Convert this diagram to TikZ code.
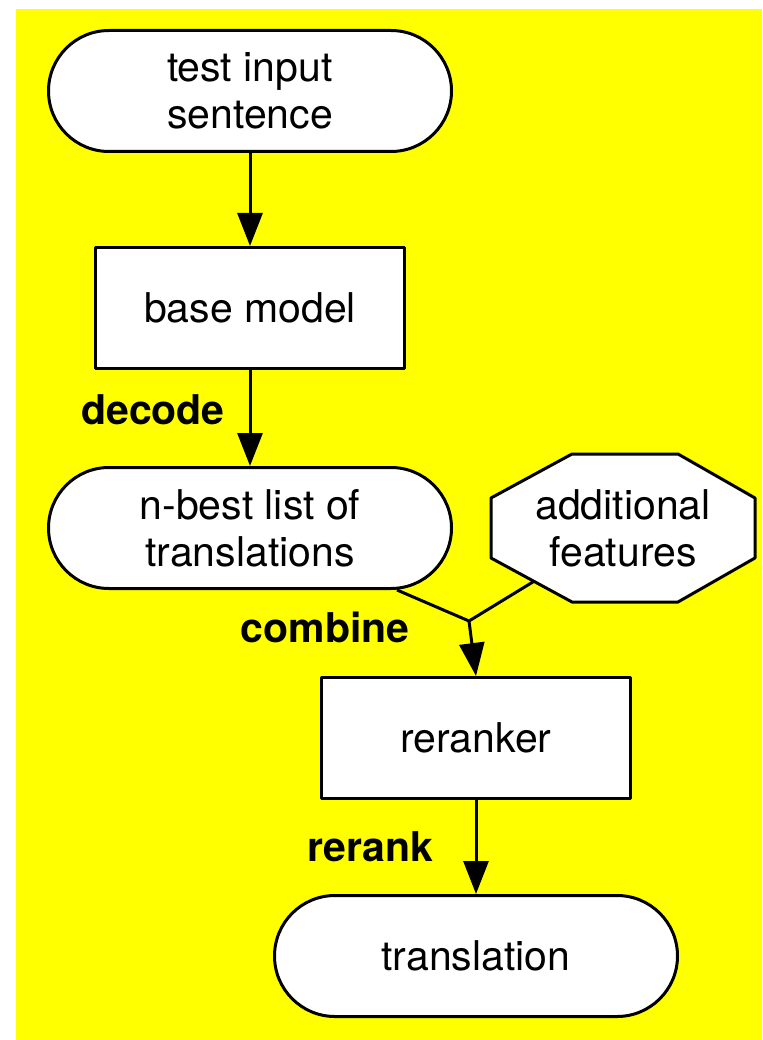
\documentclass[tikz,border=0pt]{standalone}
\usepackage{fontspec}
\setmainfont{TeX Gyre Heros}
\usetikzlibrary{shapes.misc,arrows.meta}
\definecolor{bgyellow}{RGB}{255,255,0}
\tikzset{
  term/.style={rounded rectangle, draw, fill=white, line width=3pt, minimum width=403pt, minimum height=121pt, inner sep=0pt, align=center},
  procbox/.style={rectangle, draw, fill=white, line width=3pt, minimum width=309pt, minimum height=121pt, inner sep=0pt, align=center},
  featbox/.style={rectangle, minimum width=262pt, minimum height=145pt, inner sep=0pt, align=center},
  steplabel/.style={font=\fontsize{41}{47}\selectfont\bfseries},
}
\begin{document}
\begin{tikzpicture}[x=1pt, y=-1pt, line join=round, line width=3pt, >={Triangle[length=33pt,width=25pt]}, font=\fontsize{41}{47}\selectfont]
  \useasboundingbox (0,0) rectangle (762,1040);
  \fill[bgyellow] (16,9) rectangle (762,1040);
  % nodes
  \node[term] (input) at (250,91) {test input\\sentence};
  \node[procbox] (base) at (250,308) {base model};
  \node[term] (nbest) at (250,528) {n-best list of\\translations};
  % octagon round the features node
  \filldraw[fill=white, shift={(623,528)}] (-132,-30) -- (-132,30)
    -- coordinate[pos=0.53] (featjoin) (-51,74) -- (55,74) -- (132,30)
    -- (132,-30) -- (55,-74) -- (-51,-74) -- cycle;
  \node[featbox] (feat) at (623,528) {additional\\features};
  \node[procbox] (reranker) at (476,738) {reranker};
  \node[term] (output) at (476,956) {translation};
  \coordinate (join) at (469,621);
  % labels
  \node[steplabel] (decode) at (153,410) {decode};
  \node[steplabel] (combine) at (325,627) {combine};
  \node[steplabel] (rerank) at (370,847) {rerank};
  % connectors
  \draw[->] (input) -- (base);
  \draw[->] (base) -- (nbest);
  \draw ([xshift=147pt]nbest.south) -- (join) -- (featjoin);
  \draw[->] (join) -- (reranker.north);
  \draw[->] (reranker) -- (output);
\end{tikzpicture}
\end{document}
